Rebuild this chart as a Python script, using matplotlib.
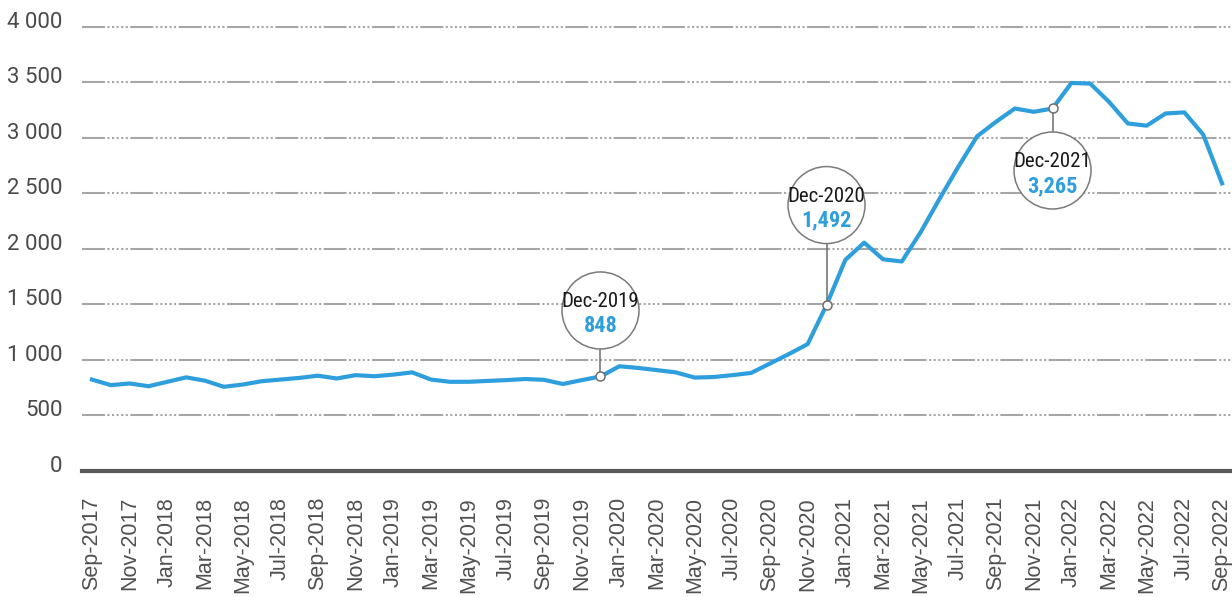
import matplotlib
matplotlib.use("Agg")
import matplotlib.pyplot as plt
from matplotlib.patches import Circle
from matplotlib.lines import Line2D
from matplotlib.transforms import ScaledTranslation

# monthly series Sep-2017 .. Sep-2022
months = ["Sep-2017", "Oct-2017", "Nov-2017", "Dec-2017",
          "Jan-2018", "Feb-2018", "Mar-2018", "Apr-2018", "May-2018", "Jun-2018",
          "Jul-2018", "Aug-2018", "Sep-2018", "Oct-2018", "Nov-2018", "Dec-2018",
          "Jan-2019", "Feb-2019", "Mar-2019", "Apr-2019", "May-2019", "Jun-2019",
          "Jul-2019", "Aug-2019", "Sep-2019", "Oct-2019", "Nov-2019", "Dec-2019",
          "Jan-2020", "Feb-2020", "Mar-2020", "Apr-2020", "May-2020", "Jun-2020",
          "Jul-2020", "Aug-2020", "Sep-2020", "Oct-2020", "Nov-2020", "Dec-2020",
          "Jan-2021", "Feb-2021", "Mar-2021", "Apr-2021", "May-2021", "Jun-2021",
          "Jul-2021", "Aug-2021", "Sep-2021", "Oct-2021", "Nov-2021", "Dec-2021",
          "Jan-2022", "Feb-2022", "Mar-2022", "Apr-2022", "May-2022", "Jun-2022",
          "Jul-2022", "Aug-2022", "Sep-2022"]
values = [820, 770, 785, 760,
          800, 840, 810, 755, 775, 805,
          820, 835, 855, 830, 860, 850,
          865, 885, 820, 800, 800, 808,
          815, 825, 818, 780, 815, 848,
          940, 925, 905, 885, 838, 843,
          860, 880, 965, 1050, 1140, 1492,
          1900, 2055, 1905, 1885, 2150, 2450,
          2740, 3015, 3145, 3265, 3235, 3265,
          3495, 3490, 3325, 3130, 3110, 3220,
          3230, 3030, 2590]

callout_months = ["Dec-2019", "Dec-2020", "Dec-2021"]
callout_labels = ["848", "1,492", "3,265"]
yticks = [0, 500, 1000, 1500, 2000, 2500, 3000, 3500, 4000]
ytick_labels = ["0", "500", "1 000", "1 500", "2 000", "2 500", "3 000", "3 500", "4 000"]

blue = "#2e9fdc"
narrow = ["Liberation Sans Narrow", "Roboto Condensed", "DejaVu Sans"]

fig = plt.figure(figsize=(12.32, 5.97), dpi=100)
ax = fig.add_axes([82 / 1232, 1 - 470.5 / 597, 1150 / 1232, 443.5 / 597])

x = list(range(len(months)))
ax.plot(x, values, color=blue, lw=3, solid_joinstyle="round", zorder=3)

ax.set_xlim(-0.53, len(months) - 0.47)
ax.set_ylim(0, 4000)

# grid
ax.set_yticks(yticks)
ax.set_yticklabels(ytick_labels, fontfamily="Roboto", fontsize=16, color="#4a4a4a")
ax.yaxis.grid(True, color="#a6a6a6", lw=1.5,
              linestyle=(0, (11, 1.2, 1, 1.2, 1, 1.2, 1, 1.2, 1, 1.2, 1, 1.2)))
for gl in ax.get_ygridlines():
    gl.set_clip_on(False)
ax.set_axisbelow(True)
ax.tick_params(axis="y", length=0, pad=14)
for lab in ax.get_yticklabels():
    lab.set_transform(lab.get_transform() + ScaledTranslation(0, 0.07, fig.dpi_scale_trans))

ax.set_xticks(x[::2])
ax.set_xticklabels(months[::2], rotation=90, fontfamily="Liberation Sans",
                   fontsize=15.5, color="#505050")
ax.tick_params(axis="x", length=0, pad=19)

for s in ["top", "right", "left"]:
    ax.spines[s].set_visible(False)
ax.spines["bottom"].set_color("#595959")
ax.spines["bottom"].set_linewidth(3)

# callout bubbles (offsets and radius in pixels at 100 dpi)
offsets = [66, 100, -62]
radius = 38.5
for m, lab, off in zip(callout_months, callout_labels, offsets):
    i = months.index(m)
    v = values[i]
    tr = fig.dpi_scale_trans + ScaledTranslation(i, v, ax.transData)
    edge = off - radius if off > 0 else off + radius
    ax.add_line(Line2D([0, 0], [0, edge / 100], transform=tr, color="#6e6e6e",
                       lw=1.1, zorder=4))
    ax.add_patch(Circle((0, off / 100), radius / 100, transform=tr, facecolor="white",
                        edgecolor="#7a7a7a", lw=1.1, zorder=5, clip_on=False))
    ax.plot([i], [v], "o", ms=6.5, mfc="white", mec="#6e6e6e", mew=1.1, zorder=6)
    ax.annotate(m, (i, v), xytext=(0, (off + 8.5) * 0.72), textcoords="offset points",
                ha="center", va="center", fontsize=15, family=narrow, color="#1a1a1a",
                zorder=7)
    ax.annotate(lab, (i, v), xytext=(0, (off - 15.5) * 0.72), textcoords="offset points",
                ha="center", va="center", fontsize=16, family=narrow,
                fontweight="bold", color=blue, zorder=7)

fig.savefig("out.png", dpi=100)
